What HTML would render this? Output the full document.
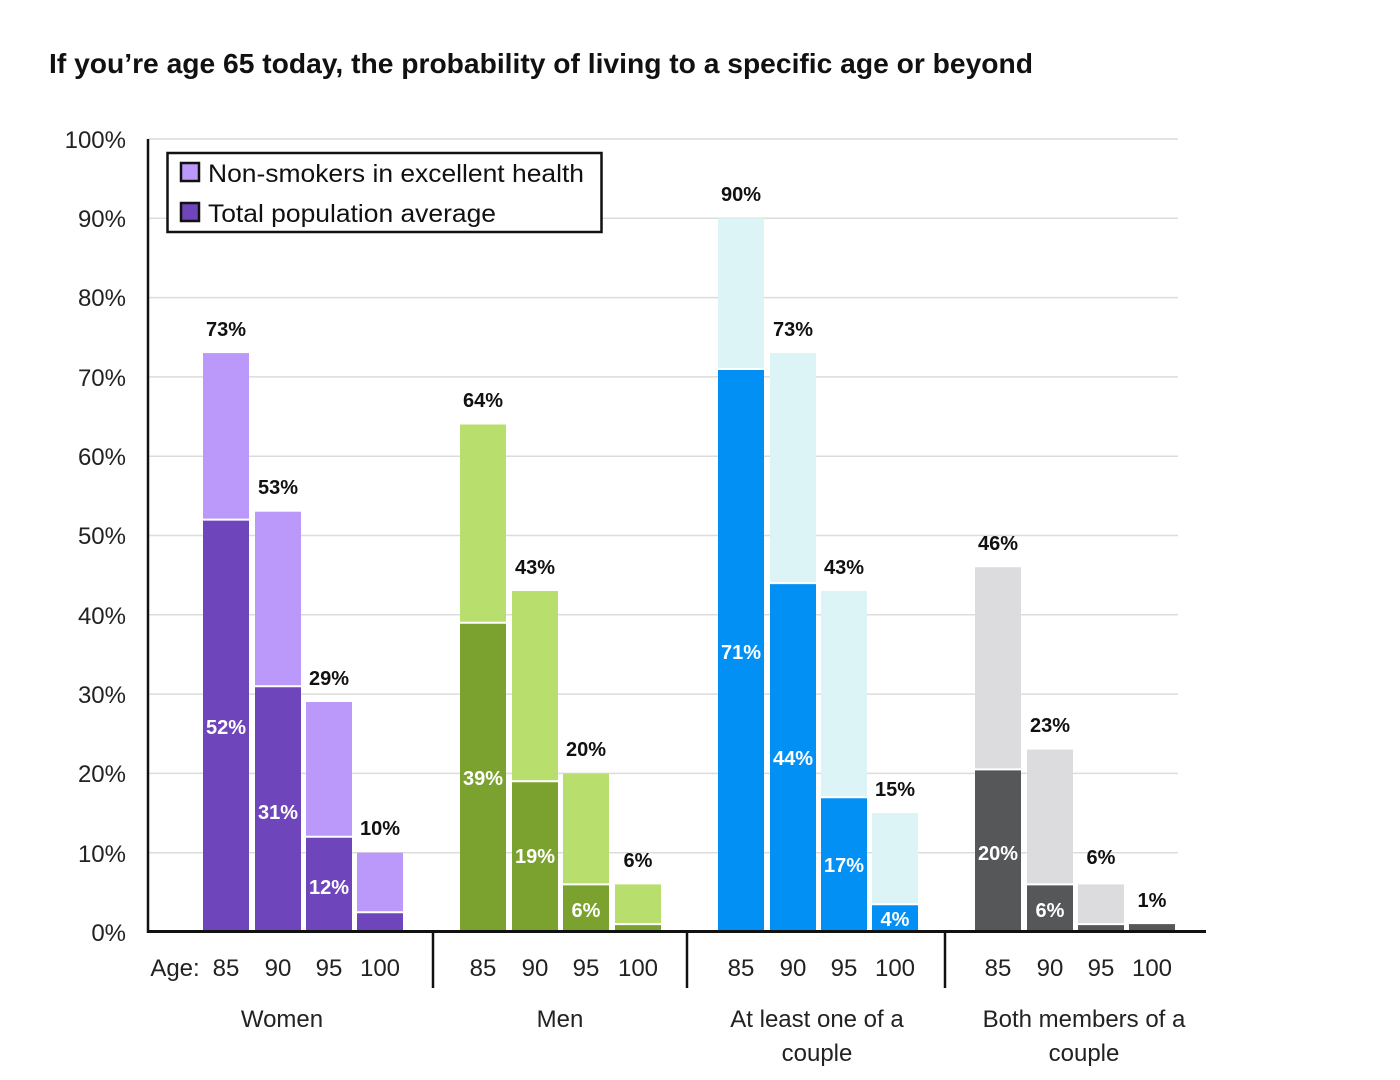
<!DOCTYPE html>
<html><head><meta charset="utf-8"><style>
html,body{margin:0;padding:0;background:#fff;}
svg{display:block;font-family:"Liberation Sans",sans-serif;}
</style></head><body>
<svg width="1400" height="1080" viewBox="0 0 1400 1080" xmlns="http://www.w3.org/2000/svg">
<text x="49" y="73" font-size="28" font-weight="bold" fill="#111" textLength="984" lengthAdjust="spacingAndGlyphs">If you’re age 65 today, the probability of living to a specific age or beyond</text>
<g stroke="#dcdcdc" stroke-width="1.5">
<line x1="148" x2="1178" y1="139" y2="139"/><line x1="148" x2="1178" y1="218.3" y2="218.3"/>
<line x1="148" x2="1178" y1="297.6" y2="297.6"/><line x1="148" x2="1178" y1="376.9" y2="376.9"/>
<line x1="148" x2="1178" y1="456.2" y2="456.2"/><line x1="148" x2="1178" y1="535.5" y2="535.5"/>
<line x1="148" x2="1178" y1="614.8" y2="614.8"/><line x1="148" x2="1178" y1="694.1" y2="694.1"/>
<line x1="148" x2="1178" y1="773.4" y2="773.4"/><line x1="148" x2="1178" y1="852.7" y2="852.7"/>
</g>
<g font-size="24" fill="#222" text-anchor="end">
<text x="126" y="148">100%</text><text x="126" y="227">90%</text><text x="126" y="306">80%</text>
<text x="126" y="386">70%</text><text x="126" y="465">60%</text><text x="126" y="544">50%</text>
<text x="126" y="624">40%</text><text x="126" y="703">30%</text><text x="126" y="782">20%</text>
<text x="126" y="862">10%</text><text x="126" y="941">0%</text>
</g>
<g>
<rect x="203" y="353.1" width="46" height="578.9" fill="#bb99fb"/><rect x="203" y="519.6" width="46" height="412.4" fill="#6f45bb"/>
<rect x="255" y="511.7" width="46" height="420.3" fill="#bb99fb"/><rect x="255" y="686.2" width="46" height="245.8" fill="#6f45bb"/>
<rect x="306" y="702" width="46" height="230" fill="#bb99fb"/><rect x="306" y="836.8" width="46" height="95.2" fill="#6f45bb"/>
<rect x="357" y="852.7" width="46" height="79.3" fill="#bb99fb"/><rect x="357" y="912.2" width="46" height="19.8" fill="#6f45bb"/>
<rect x="460" y="424.5" width="46" height="507.5" fill="#b8df6e"/><rect x="460" y="622.7" width="46" height="309.3" fill="#7ba12f"/>
<rect x="512" y="591" width="46" height="341" fill="#b8df6e"/><rect x="512" y="781.3" width="46" height="150.7" fill="#7ba12f"/>
<rect x="563" y="773.4" width="46" height="158.6" fill="#b8df6e"/><rect x="563" y="884.4" width="46" height="47.6" fill="#7ba12f"/>
<rect x="615" y="884.4" width="46" height="47.6" fill="#b8df6e"/><rect x="615" y="924.1" width="46" height="7.9" fill="#7ba12f"/>
<rect x="718" y="218.3" width="46" height="713.7" fill="#dcf4f6"/><rect x="718" y="369" width="46" height="563" fill="#0390f5"/>
<rect x="770" y="353.1" width="46" height="578.9" fill="#dcf4f6"/><rect x="770" y="583.1" width="46" height="348.9" fill="#0390f5"/>
<rect x="821" y="591" width="46" height="341" fill="#dcf4f6"/><rect x="821" y="797.2" width="46" height="134.8" fill="#0390f5"/>
<rect x="872" y="813" width="46" height="119" fill="#dcf4f6"/><rect x="872" y="904.2" width="46" height="27.8" fill="#0390f5"/>
<rect x="975" y="567.2" width="46" height="364.8" fill="#dcdcde"/><rect x="975" y="769.4" width="46" height="162.6" fill="#555759"/>
<rect x="1027" y="749.6" width="46" height="182.4" fill="#dcdcde"/><rect x="1027" y="884.4" width="46" height="47.6" fill="#555759"/>
<rect x="1078" y="884.4" width="46" height="47.6" fill="#dcdcde"/><rect x="1078" y="924.1" width="46" height="7.9" fill="#555759"/>
<rect x="1129" y="924.1" width="46" height="7.9" fill="#555759"/>
</g>
<g stroke="#fff" stroke-width="2">
<line x1="203" x2="249" y1="519.6" y2="519.6"/><line x1="255" x2="301" y1="686.2" y2="686.2"/><line x1="306" x2="352" y1="836.8" y2="836.8"/><line x1="357" x2="403" y1="912.2" y2="912.2"/>
<line x1="460" x2="506" y1="622.7" y2="622.7"/><line x1="512" x2="558" y1="781.3" y2="781.3"/><line x1="563" x2="609" y1="884.4" y2="884.4"/><line x1="615" x2="661" y1="924.1" y2="924.1"/>
<line x1="718" x2="764" y1="369" y2="369"/><line x1="770" x2="816" y1="583.1" y2="583.1"/><line x1="821" x2="867" y1="797.2" y2="797.2"/><line x1="872" x2="918" y1="904.2" y2="904.2"/>
<line x1="975" x2="1021" y1="769.4" y2="769.4"/><line x1="1027" x2="1073" y1="884.4" y2="884.4"/><line x1="1078" x2="1124" y1="924.1" y2="924.1"/>
</g>
<g font-size="20" font-weight="bold" fill="#111" text-anchor="middle">
<text x="226" y="336">73%</text><text x="278" y="494">53%</text><text x="329" y="685">29%</text><text x="380" y="835">10%</text>
<text x="483" y="407">64%</text><text x="535" y="574">43%</text><text x="586" y="756">20%</text><text x="638" y="867">6%</text>
<text x="741" y="201">90%</text><text x="793" y="336">73%</text><text x="844" y="574">43%</text><text x="895" y="796">15%</text>
<text x="998" y="550">46%</text><text x="1050" y="732">23%</text><text x="1101" y="864">6%</text><text x="1152" y="907">1%</text>
</g>
<g font-size="20" font-weight="bold" fill="#fff" text-anchor="middle">
<text x="226" y="734">52%</text><text x="278" y="819">31%</text><text x="329" y="894">12%</text>
<text x="483" y="785">39%</text><text x="535" y="863">19%</text><text x="586" y="917">6%</text>
<text x="741" y="659">71%</text><text x="793" y="765">44%</text><text x="844" y="872">17%</text><text x="895" y="926">4%</text>
<text x="998" y="860">20%</text><text x="1050" y="917">6%</text>
</g>
<line x1="148" x2="148" y1="139" y2="933" stroke="#111" stroke-width="2.5"/>
<line x1="147" x2="1206" y1="931.5" y2="931.5" stroke="#111" stroke-width="3"/>
<g stroke="#111" stroke-width="2.5">
<line x1="433" x2="433" y1="932" y2="988"/><line x1="687" x2="687" y1="932" y2="988"/><line x1="945" x2="945" y1="932" y2="988"/>
</g>
<rect x="167.5" y="153" width="434" height="79" fill="#fff" stroke="#111" stroke-width="2.5"/>
<rect x="181" y="163" width="18" height="18" fill="#bb99fb" stroke="#111" stroke-width="2.5"/>
<rect x="181" y="203" width="18" height="18" fill="#6f45bb" stroke="#111" stroke-width="2.5"/>
<text x="208" y="182" font-size="25" fill="#111" textLength="376" lengthAdjust="spacingAndGlyphs">Non-smokers in excellent health</text>
<text x="208" y="222" font-size="25" fill="#111" textLength="288" lengthAdjust="spacingAndGlyphs">Total population average</text>
<g font-size="24" fill="#222" text-anchor="middle">
<text x="175" y="976">Age:</text>
<text x="226" y="976">85</text><text x="278" y="976">90</text><text x="329" y="976">95</text><text x="380" y="976">100</text>
<text x="483" y="976">85</text><text x="535" y="976">90</text><text x="586" y="976">95</text><text x="638" y="976">100</text>
<text x="741" y="976">85</text><text x="793" y="976">90</text><text x="844" y="976">95</text><text x="895" y="976">100</text>
<text x="998" y="976">85</text><text x="1050" y="976">90</text><text x="1101" y="976">95</text><text x="1152" y="976">100</text>
<text x="282" y="1027">Women</text>
<text x="560" y="1027">Men</text>
<text x="817" y="1027">At least one of a</text><text x="817" y="1061">couple</text>
<text x="1084" y="1027">Both members of a</text><text x="1084" y="1061">couple</text>
</g>
</svg>
</body></html>
